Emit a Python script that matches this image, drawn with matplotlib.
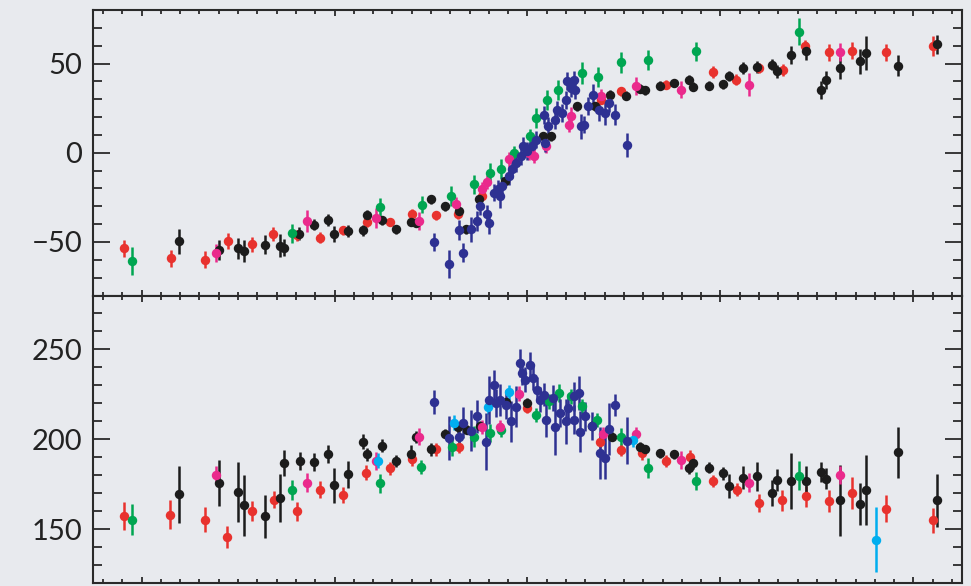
import matplotlib
matplotlib.use("Agg")
import matplotlib.pyplot as plt
from matplotlib.ticker import MultipleLocator, NullFormatter

# ---------------- data: top panel (velocity) ----------------
top_red_x = [-20.9, -18.5, -16.7, -15.5, -14.3, -13.2, -11.95, -10.75, -9.55, -8.3, -7.1, -6.0, -4.75, -3.6, -2.35,
             3.8, 4.85, 7.2, 9.6, 10.8, 12.0, 13.25, 14.4, 15.6, 16.8, 18.6, 21.0]
top_red_y = [-53.6, -59.2, -60.0, -49.6, -51.4, -45.6, -46.2, -47.7, -43.4, -38.8, -38.8, -34.5, -35.0, -34.5, -24.2,
             29.8, 34.4, 38.2, 45.3, 41.0, 47.5, 46.5, 59.6, 56.4, 57.3, 56.4, 59.9]
top_red_e = [4.8, 4.7, 4.7, 4.4, 4.2, 3.9, 3.0, 3.1, 2.5, 3.0, 2.5, 3.0, 2.5, 2.5, 2.5,
             2.5, 2.5, 2.5, 3.3, 3.0, 3.0, 3.5, 3.5, 4.8, 5.0, 4.7, 5.4]

top_black_x = [-18.05, -16.0, -15.0, -14.7, -13.6, -12.85, -12.6, -11.85, -11.05, -10.35, -10.05, -9.3, -8.55, -8.3,
               -7.55, -6.8, -6.05, -5.8, -5.0, -4.25, -3.55, -3.2, -2.5, -1.15, 0.8, 1.2, 2.55, 3.5, 4.3, 5.1,
               5.85, 6.1, 6.85, 7.6, 8.35, 8.6, 9.4, 10.15, 10.45, 11.15, 11.9, 12.65, 12.95, 13.65, 14.45,
               15.2, 15.45, 16.2, 17.25, 17.55, 19.2, 21.2]
top_black_y = [-49.7, -54.7, -53.6, -55.0, -51.6, -52.2, -53.1, -45.3, -40.4, -37.8, -45.6, -43.8, -43.4, -34.6,
               -37.8, -42.8, -38.8, -39.1, -26.1, -30.0, -32.6, -42.8, -26.1, -15.9, 9.3, 9.3, 26.0, 26.0, 32.6, 32.0,
               35.8, 35.0, 37.6, 39.1, 41.0, 36.9, 37.6, 38.5, 43.2, 47.5, 48.0, 49.3, 45.6, 54.9, 56.8,
               35.4, 41.0, 47.5, 51.2, 55.9, 48.9, 60.9]
top_black_e = [7.2, 5.6, 5.8, 6.3, 5.4, 6.4, 4.9, 3.5, 3.1, 3.3, 4.6, 3.2, 3.0, 2.6,
               2.5, 2.5, 2.5, 2.5, 2.5, 2.5, 2.5, 2.5, 2.5, 2.5, 2.5, 2.5, 2.5, 2.5, 2.5, 2.5,
               2.5, 2.5, 2.5, 2.5, 2.5, 2.5, 2.5, 2.5, 2.8, 3.4, 3.5, 3.0, 3.5, 5.0, 5.0,
               5.0, 5.0, 6.3, 7.0, 9.3, 6.0, 5.3]

top_green_x = [-20.5, -12.2, -7.65, -5.45, -3.95, -2.75, -1.95, -1.35, -0.7, 0.15, 0.45, 1.0, 1.6, 2.8, 3.65,
               4.85, 6.25, 8.75, 14.05]
top_green_y = [-60.7, -45.1, -30.2, -29.0, -24.2, -17.7, -11.2, -9.3, 0.0, 9.3, 19.6, 29.8, 35.4, 44.7, 42.2,
               50.8, 52.1, 56.8, 67.9]
top_green_e = [7.7, 5.4, 5.0, 5.0, 5.4, 5.4, 5.6, 5.6, 4.0, 4.0, 5.6, 5.6, 5.6, 6.0, 5.6,
               5.9, 5.6, 5.1, 7.7]

top_mag_x = [-16.15, -11.45, -7.85, -5.6, -3.7, -2.35, -2.1, -0.95, 0.1, 0.35, 0.95, 2.15, 2.25, 3.8, 5.6, 7.95,
             11.5, 16.2]
top_mag_y = [-56.3, -38.2, -36.3, -38.2, -28.9, -20.5, -16.4, -3.7, 0.0, -1.9, 3.7, 15.8, 20.4, 31.6, 37.2, 35.4,
             38.2, 56.4]
top_mag_e = [5.1, 6.0, 5.6, 5.0, 4.0, 4.0, 4.0, 4.0, 4.0, 4.0, 4.0, 4.0, 5.0, 4.0, 5.0, 4.7, 6.3, 5.0]

top_blue_x = [-4.85, -4.05, -3.55, -3.35, -2.95, -2.6, -2.45, -2.1, -2.0, -1.75, -1.55, -1.4, -1.3, -0.95, -0.8,
              -0.6, -0.35, -0.25, 0.0, 0.25, 0.45, 0.9, 0.85, 1.05, 1.4, 1.55, 1.8, 2.0, 2.05, 2.25, 2.4, 2.45,
              2.75, 2.95, 3.15, 3.4, 3.7, 4.0, 4.2, 4.55, 5.15]
top_blue_y = [-49.9, -62.4, -43.2, -55.9, -42.8, -38.2, -29.8, -34.5, -39.1, -22.3, -20.5, -24.2, -18.7, -13.1, -9.3,
              -5.6, -1.9, 3.7, 0.9, 3.7, 7.4, 5.6, 21.4, 14.9, 18.6, 24.2, 22.3, 29.8, 40.0, 36.3, 41.0, 35.4,
              14.9, 15.8, 26.0, 32.6, 24.2, 22.3, 27.9, 21.4, 4.1]
top_blue_e = [5.0, 7.7, 5.6, 5.4, 7.0, 5.6, 5.0, 5.0, 6.5, 5.0, 5.0, 6.5, 5.0, 5.0, 5.0,
              5.0, 5.0, 5.0, 5.0, 5.0, 5.0, 5.0, 5.0, 5.0, 5.0, 5.0, 5.0, 5.0, 5.0, 5.0, 5.0, 5.0,
              7.0, 5.0, 5.0, 6.0, 6.5, 7.0, 5.0, 6.0, 6.7]

# ---------------- data: bottom panel (dispersion) ----------------
bot_red_x = [-20.9, -18.55, -16.7, -15.55, -14.3, -13.15, -11.95, -10.75, -9.55, -8.35, -7.15, -6.0, -4.75, -3.55,
             0.0, 3.75, 4.85, 5.95, 7.2, 8.4, 9.6, 10.85, 12.0, 13.2, 14.45, 15.6, 16.8, 18.6, 21.0]
bot_red_y = [157.2, 158.0, 155.2, 145.5, 159.9, 166.4, 159.9, 172.0, 169.2, 181.5, 183.8, 188.8, 194.4, 195.9,
             217.4, 198.7, 194.0, 192.2, 188.0, 190.3, 176.8, 172.0, 164.5, 166.0, 168.3, 165.6, 170.1, 161.4, 154.8]
bot_red_e = [7.7, 8.2, 7.0, 6.2, 5.6, 4.9, 5.4, 4.7, 4.4, 4.0, 3.7, 3.5, 3.5, 3.5,
             3.0, 3.5, 3.5, 3.5, 3.5, 3.5, 3.5, 3.5, 5.1, 5.8, 5.8, 6.1, 8.7, 7.5, 6.8]

bot_black_x = [-18.05, -16.0, -15.0, -14.7, -13.6, -12.85, -12.6, -11.8, -11.05, -10.35, -10.05, -9.3, -8.55, -8.3,
               -7.55, -6.8, -6.05, -5.8, -5.0, -4.3, -3.6, -3.15, -2.45, -1.1, 0.0, 3.35, 4.4, 5.85, 6.1, 6.85,
               7.6, 8.35, 8.6, 9.4, 10.15, 10.45, 11.15, 11.9, 12.65, 12.95, 13.65, 14.45, 15.2, 15.45, 16.2,
               17.25, 17.55, 19.2, 21.2]
bot_black_y = [169.4, 175.7, 170.7, 163.2, 157.2, 167.5, 186.6, 188.0, 187.5, 191.8, 174.4, 180.6, 198.7, 191.6,
               196.4, 188.0, 191.8, 201.1, 194.4, 203.0, 206.7, 205.2, 207.4, 220.5, 220.2, 207.4, 201.5, 195.9,
               194.4, 192.2, 191.6, 183.8, 186.6, 184.1, 181.0, 173.9, 178.7, 179.5, 170.1, 177.2, 176.8, 176.8,
               181.9, 178.1, 166.0, 164.2, 171.6, 192.7, 166.0]
bot_black_e = [15.9, 12.9, 16.8, 17.0, 12.0, 13.3, 7.3, 5.1, 5.1, 5.1, 9.8, 7.5, 4.2, 3.7,
               3.7, 3.5, 5.0, 3.3, 3.5, 2.5, 3.0, 2.5, 2.5, 2.5, 2.5, 2.5, 2.5, 2.5, 2.5, 2.5,
               2.5, 3.0, 3.0, 3.0, 3.5, 6.7, 6.4, 8.1, 7.0, 6.0, 15.6, 8.1, 5.6, 5.8, 19.6,
               11.7, 19.4, 14.0, 14.9]

bot_green_x = [-20.5, -12.2, -7.65, -5.5, -3.9, -2.75, -1.95, -1.35, 0.45, 1.1, 1.65, 2.25, 2.85, 3.6, 4.85,
               6.25, 8.75, 14.05]
bot_green_y = [155.2, 171.6, 175.4, 184.7, 195.9, 201.5, 203.7, 205.2, 213.6, 221.1, 225.8, 223.9, 218.3, 210.8,
               201.5, 183.8, 176.8, 179.6]
bot_green_e = [8.7, 5.6, 5.4, 4.0, 5.0, 6.0, 5.0, 4.0, 4.0, 4.0, 5.0, 4.0, 4.0, 4.0, 4.7, 5.6, 5.1, 8.1]

bot_mag_x = [-16.15, -11.45, -7.85, -5.6, -2.35, -1.4, -0.45, 3.9, 5.6, 7.95, 11.5, 16.2]
bot_mag_y = [180.0, 175.9, 187.8, 201.5, 207.0, 206.7, 225.4, 203.0, 203.0, 188.4, 175.7, 180.0]
bot_mag_e = [4.9, 5.3, 5.1, 4.5, 4.0, 4.0, 4.0, 4.0, 4.0, 5.1, 5.3, 5.1]

bot_cyan_x = [-7.75, -3.8, -2.05, -0.95, 5.45, 18.05]
bot_cyan_y = [188.0, 209.3, 217.9, 226.1, 199.6, 144.2]
bot_cyan_e = [4.2, 4.0, 4.0, 4.0, 4.0, 18.2]

bot_blue_x = [-4.85, -4.05, -3.55, -3.35, -2.95, -2.6, -2.15, -2.0, -1.75, -1.65, -1.4, -1.1, -0.85, -0.6, -0.4,
              -0.3, -0.15, 0.15, 0.3, 0.5, 0.65, 0.85, 0.95, 1.3, 1.45, 1.7, 2.0, 2.1, 2.4, 2.4, 2.65, 2.7, 3.0,
              3.35, 3.75, 4.0, 4.2, 4.55, 5.15]
bot_blue_y = [220.7, 200.6, 201.5, 209.3, 204.8, 212.7, 198.7, 222.0, 230.4, 220.2, 222.0, 219.2, 209.9, 218.2,
              242.6, 237.0, 233.2, 241.6, 234.2, 227.6, 222.0, 224.8, 210.8, 223.0, 207.0, 214.6, 209.9, 217.4,
              223.9, 210.8, 225.8, 204.3, 212.7, 207.4, 192.5, 189.4, 205.6, 219.2, 199.2]
bot_blue_e = [6.9, 12.3, 8.0, 8.4, 11.4, 9.3, 15.9, 13.3, 8.4, 8.0, 8.8, 8.0, 11.2, 11.2, 7.9,
              7.0, 7.0, 7.2, 7.0, 7.0, 7.0, 6.5, 9.3, 7.0, 15.9, 8.0, 12.5, 8.0, 8.0, 8.0, 9.5, 11.2, 8.0,
              8.0, 14.5, 11.7, 14.5, 6.2, 13.0]

# ---------------- style ----------------
BG = "#e8eaee"
RED, BLACK, GREEN, MAG, CYAN, BLUE = "#e8322e", "#1c1c1c", "#00a651", "#ea2a8c", "#00aeef", "#2e3192"
SPINE = "#2a2a2a"

plt.rcParams["font.family"] = ["Lato", "DejaVu Sans"]

fig = plt.figure(figsize=(9.71, 5.86), dpi=100, facecolor=BG)
ax_top = fig.add_axes([0.0961, 0.4957, 0.8943, 0.4872])
ax_bot = fig.add_axes([0.0961, 0.0051, 0.8943, 0.4906])

ekw = dict(fmt="o", ms=6.8, mew=0, elinewidth=1.8, capsize=3.4, capthick=1.8, zorder=3)

top_series = [
    (top_red_x, top_red_y, top_red_e, RED),
    (top_black_x, top_black_y, top_black_e, BLACK),
    (top_green_x, top_green_y, top_green_e, GREEN),
    (top_mag_x, top_mag_y, top_mag_e, MAG),
    (top_blue_x, top_blue_y, top_blue_e, BLUE),
]
bot_series = [
    (bot_red_x, bot_red_y, bot_red_e, RED),
    (bot_black_x, bot_black_y, bot_black_e, BLACK),
    (bot_green_x, bot_green_y, bot_green_e, GREEN),
    (bot_mag_x, bot_mag_y, bot_mag_e, MAG),
    (bot_cyan_x, bot_cyan_y, bot_cyan_e, CYAN),
    (bot_blue_x, bot_blue_y, bot_blue_e, BLUE),
]

for ax, series in ((ax_top, top_series), (ax_bot, bot_series)):
    for x, y, e, c in series:
        ax.errorbar(x, y, yerr=e, color=c, ecolor=c, **ekw)

ax_top.set_ylim(-80, 80)
ax_bot.set_ylim(120, 280)

for ax in (ax_top, ax_bot):
    ax.set_facecolor(BG)
    ax.set_xlim(-22.5, 22.5)
    ax.xaxis.set_major_locator(MultipleLocator(10))
    ax.xaxis.set_minor_locator(MultipleLocator(1))
    ax.yaxis.set_major_locator(MultipleLocator(50))
    ax.yaxis.set_minor_locator(MultipleLocator(10))
    ax.xaxis.set_major_formatter(NullFormatter())
    for s in ax.spines.values():
        s.set_color(SPINE)
        s.set_linewidth(1.5)
    ax.tick_params(axis="both", which="both", direction="in", top=True, right=True,
                   color=SPINE, width=1.3)
    ax.tick_params(axis="x", which="major", length=4.5)
    ax.tick_params(axis="x", which="minor", length=2.6)
    ax.tick_params(axis="y", which="major", length=12.2, labelsize=21, pad=8,
                   labelcolor="#222222")
    ax.tick_params(axis="y", which="minor", length=6.5)

fig.savefig("out.png", dpi=100, facecolor=BG)
